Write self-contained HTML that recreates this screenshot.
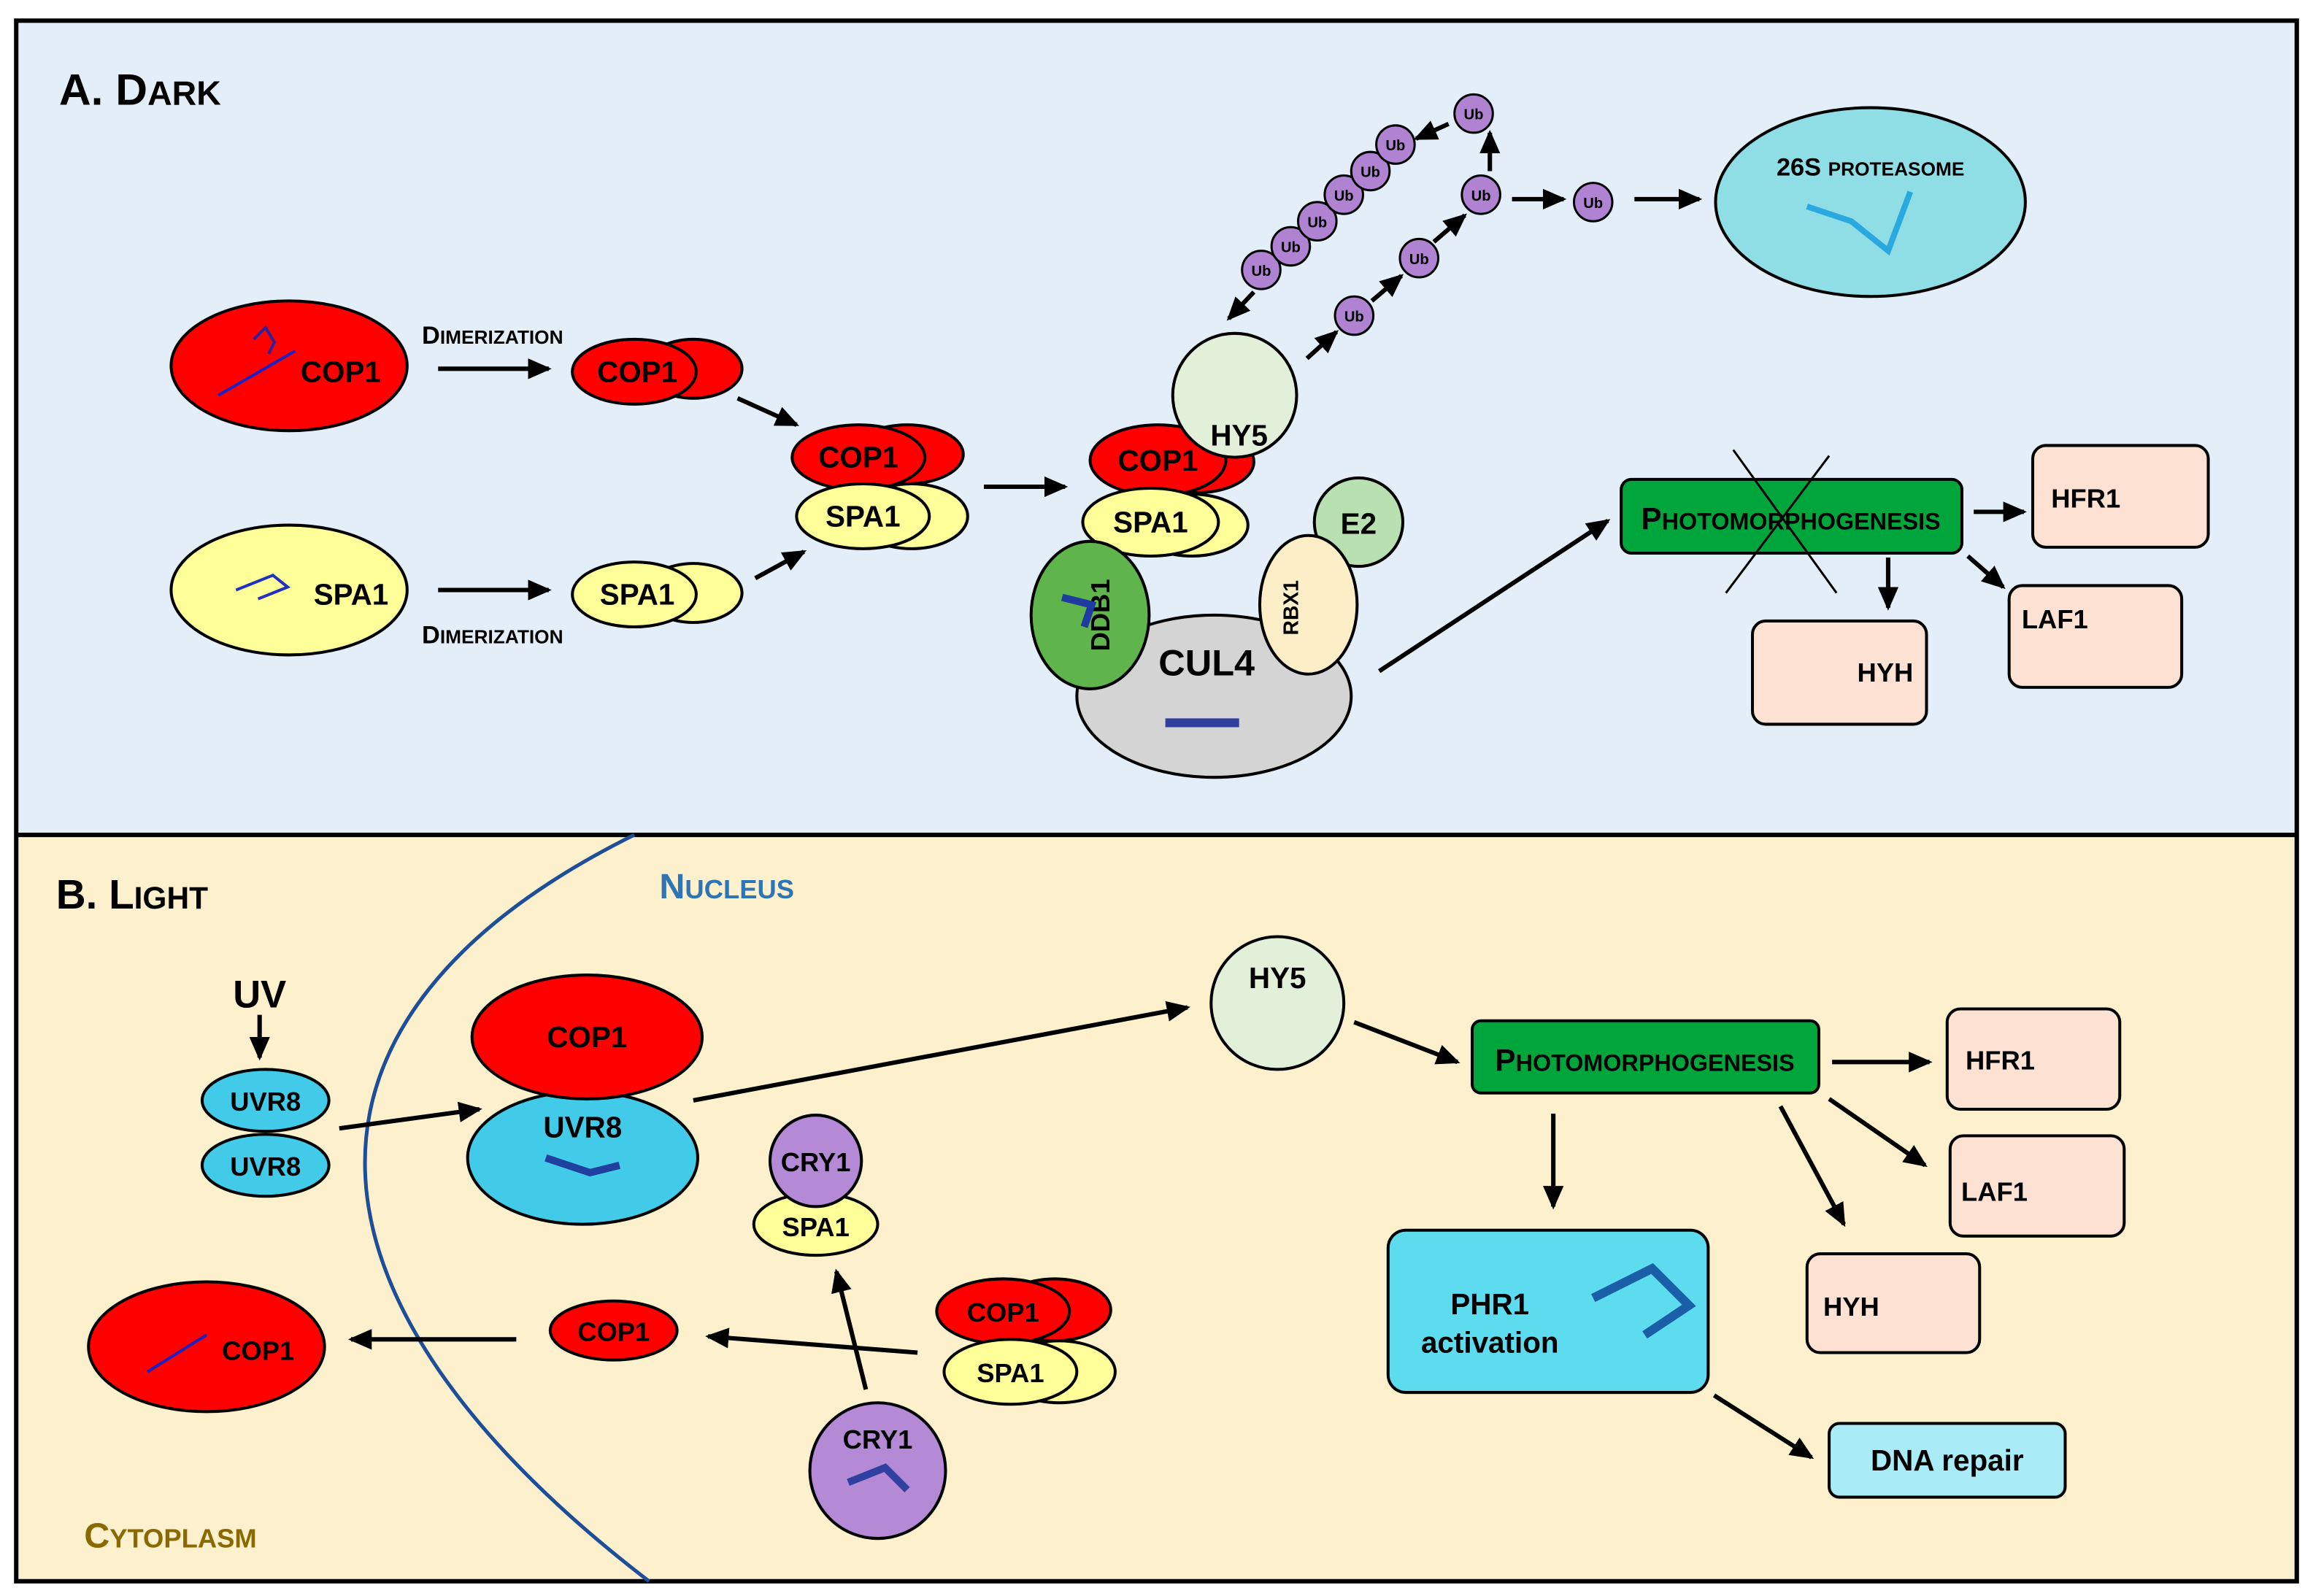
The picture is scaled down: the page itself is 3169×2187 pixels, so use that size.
<!DOCTYPE html>
<html><head><meta charset="utf-8"><style>
html,body{margin:0;padding:0;background:#fff;}
svg{display:block;}
text{font-family:"Liberation Sans Narrow","Liberation Sans",sans-serif;font-weight:bold;fill:#000;}
</style></head><body>
<svg width="3169" height="2187" viewBox="0 0 1568 1082" preserveAspectRatio="none" xmlns="http://www.w3.org/2000/svg">
<defs>
<marker id="a" markerUnits="userSpaceOnUse" markerWidth="16" markerHeight="16" refX="14" refY="8" orient="auto"><path d="M0,1 L16,8 L0,15 Z" fill="#000"/></marker>
<marker id="b" markerUnits="userSpaceOnUse" markerWidth="12" markerHeight="12" refX="11" refY="6" orient="auto"><path d="M0,1 L12,6 L0,11 Z" fill="#000"/></marker>
</defs>
<rect x="0" y="0" width="1568" height="1082" fill="#fff"/>
<rect x="11" y="14" width="1546" height="552" fill="#e4eef8"/>
<rect x="11" y="566" width="1546" height="506" fill="#fdf0cd"/>
<rect x="11" y="14" width="1546" height="1058" fill="none" stroke="#000" stroke-width="3"/>
<line x1="11" y1="566" x2="1557" y2="566" stroke="#000" stroke-width="3"/>

<g stroke="#000" stroke-width="2">
<!-- Panel A -->
<ellipse cx="196" cy="248" rx="80" ry="44" fill="#f00"/>
<ellipse cx="196" cy="400" rx="80" ry="44" fill="#ffff99"/>
<ellipse cx="470" cy="250" rx="33" ry="20" fill="#f00"/>
<ellipse cx="430" cy="252" rx="42" ry="22" fill="#f00"/>
<ellipse cx="470" cy="402" rx="33" ry="20" fill="#ffff99"/>
<ellipse cx="430" cy="403" rx="42" ry="22" fill="#ffff99"/>
<ellipse cx="615" cy="308" rx="38" ry="20" fill="#f00"/>
<ellipse cx="582" cy="310" rx="45" ry="22" fill="#f00"/>
<ellipse cx="618" cy="350" rx="38" ry="22" fill="#ffff99"/>
<ellipse cx="585" cy="350" rx="45" ry="22" fill="#ffff99"/>
<ellipse cx="823" cy="472" rx="93" ry="55" fill="#d4d4d4"/>
<ellipse cx="812" cy="313" rx="38" ry="21" fill="#f00"/>
<ellipse cx="785" cy="312" rx="46" ry="24" fill="#f00"/>
<ellipse cx="808" cy="356" rx="38" ry="21" fill="#ffff99"/>
<ellipse cx="780" cy="354" rx="46" ry="23" fill="#ffff99"/>
<circle cx="837" cy="268" r="42" fill="#e2f0da"/>
<ellipse cx="739" cy="417" rx="40" ry="50" fill="#5fb54c"/>
<circle cx="921" cy="354" r="30" fill="#b8e0b0"/>
<ellipse cx="887" cy="410" rx="33" ry="47" fill="#fcefc8"/>
<ellipse cx="1268" cy="137" rx="105" ry="64" fill="#8fdde5"/>
<rect x="1099" y="325" width="231" height="50" rx="7" fill="#00a63c"/>
<rect x="1378" y="302" width="119" height="69" rx="9" fill="#fde2d4"/>
<rect x="1188" y="421" width="118" height="70" rx="9" fill="#fde2d4"/>
<rect x="1362" y="397" width="117" height="69" rx="9" fill="#fde2d4"/>
<g fill="#b083d2" stroke-width="1.5">
<circle cx="855" cy="183" r="13"/><circle cx="875" cy="167" r="13"/><circle cx="893" cy="150" r="13"/>
<circle cx="911" cy="132" r="13"/><circle cx="929" cy="116" r="13"/><circle cx="946" cy="98" r="13"/>
<circle cx="999" cy="77" r="13"/><circle cx="918" cy="214" r="13"/><circle cx="962" cy="175" r="13"/>
<circle cx="1004" cy="132" r="13"/><circle cx="1080" cy="137" r="13"/>
</g>
<!-- Panel B -->
<ellipse cx="180" cy="790" rx="43" ry="21" fill="#42cbe9"/>
<ellipse cx="180" cy="746" rx="43" ry="21" fill="#42cbe9"/>
<ellipse cx="395" cy="785" rx="78" ry="45" fill="#42cbe9"/>
<ellipse cx="398" cy="703" rx="78" ry="42" fill="#f00"/>
<circle cx="866" cy="680" r="45" fill="#e2f0da"/>
<rect x="998" y="692" width="235" height="49" rx="6" fill="#00a63c"/>
<rect x="1320" y="684" width="117" height="68" rx="9" fill="#fde2d4"/>
<rect x="1322" y="770" width="118" height="68" rx="9" fill="#fde2d4"/>
<rect x="1225" y="850" width="117" height="67" rx="9" fill="#fde2d4"/>
<rect x="941" y="834" width="217" height="110" rx="12" fill="#5ddcef"/>
<rect x="1240" y="965" width="160" height="50" rx="7" fill="#a9ecf7"/>
<ellipse cx="553" cy="830" rx="42" ry="21" fill="#ffff99"/>
<circle cx="553" cy="787" r="31" fill="#b48ad6"/>
<circle cx="595" cy="997" r="46" fill="#b48ad6"/>
<ellipse cx="715" cy="888" rx="38" ry="21" fill="#f00"/>
<ellipse cx="680" cy="889" rx="45" ry="22" fill="#f00"/>
<ellipse cx="718" cy="930" rx="38" ry="21" fill="#ffff99"/>
<ellipse cx="685" cy="930" rx="45" ry="22" fill="#ffff99"/>
<ellipse cx="416" cy="902" rx="43" ry="20" fill="#f00"/>
<ellipse cx="140" cy="913" rx="80" ry="44" fill="#f00"/>
</g>
<path d="M430,566 C 180,690 190,880 440,1072" fill="none" stroke="#1f4e99" stroke-width="2.5"/>

<!-- cross -->
<g stroke="#000" stroke-width="1.5">
<line x1="1175" y1="305" x2="1245" y2="402"/><line x1="1240" y1="309" x2="1170" y2="402"/>
</g>

<!-- arrows -->
<g stroke="#000" stroke-width="3" fill="none" marker-end="url(#a)">
<line x1="297" y1="250" x2="372" y2="250"/>
<line x1="297" y1="400" x2="372" y2="400"/>
<line x1="500" y1="270" x2="540" y2="288"/>
<line x1="512" y1="392" x2="545" y2="374"/>
<line x1="667" y1="330" x2="722" y2="330"/>
<line x1="886" y1="243" x2="906" y2="225"/>
<line x1="930" y1="204" x2="950" y2="187"/>
<line x1="972" y1="164" x2="993" y2="146"/>
<line x1="1010" y1="116" x2="1010" y2="90"/>
<line x1="982" y1="84" x2="960" y2="94"/>
<line x1="850" y1="198" x2="833" y2="216"/>
<line x1="1025" y1="135" x2="1060" y2="135"/>
<line x1="1108" y1="135" x2="1152" y2="135"/>
<line x1="935" y1="455" x2="1090" y2="353"/>
<line x1="1338" y1="347" x2="1372" y2="347"/>
<line x1="1280" y1="378" x2="1280" y2="412"/>
<line x1="1334" y1="377" x2="1358" y2="398"/>
<line x1="176" y1="688" x2="176" y2="717"/>
<line x1="230" y1="765" x2="325" y2="752"/>
<line x1="470" y1="746" x2="805" y2="683"/>
<line x1="918" y1="693" x2="988" y2="720"/>
<line x1="1242" y1="720" x2="1308" y2="720"/>
<line x1="1240" y1="745" x2="1305" y2="790"/>
<line x1="1207" y1="750" x2="1250" y2="830"/>
<line x1="1053" y1="755" x2="1053" y2="818"/>
<line x1="1162" y1="946" x2="1228" y2="988"/>
<line x1="587" y1="942" x2="567" y2="862"/>
<line x1="622" y1="917" x2="480" y2="906"/>
<line x1="350" y1="908" x2="238" y2="908"/>
</g>

<!-- text -->
<text x="40" y="71" font-size="30">A. D<tspan font-size="23">ARK</tspan></text>
<text x="38" y="616" font-size="28">B. L<tspan font-size="21">IGHT</tspan></text>
<text x="447" y="609" font-size="24" style="fill:#2e75b6">N<tspan font-size="18">UCLEUS</tspan></text>
<text x="57" y="1049" font-size="24" style="fill:#8a6a00">C<tspan font-size="18">YTOPLASM</tspan></text>
<text x="286" y="233" font-size="17">D<tspan font-size="13">IMERIZATION</tspan></text>
<text x="286" y="436" font-size="17">D<tspan font-size="13">IMERIZATION</tspan></text>
<g font-size="20" text-anchor="middle">
<text x="231" y="259">COP1</text>
<text x="238" y="410">SPA1</text>
<text x="432" y="259">COP1</text>
<text x="432" y="410">SPA1</text>
<text x="582" y="317">COP1</text>
<text x="585" y="357">SPA1</text>
<text x="785" y="319">COP1</text>
<text x="780" y="361">SPA1</text>
<text x="840" y="302">HY5</text>
<text x="921" y="362">E2</text>
<text x="818" y="458" font-size="25">CUL4</text>
<text x="1414" y="344" font-size="18">HFR1</text>
<text x="1278" y="462" font-size="18">HYH</text>
<text x="1393" y="426" font-size="18">LAF1</text>
<text x="176" y="683" font-size="26">UV</text>
<text x="180" y="753" font-size="18">UVR8</text>
<text x="180" y="797" font-size="18">UVR8</text>
<text x="398" y="710">COP1</text>
<text x="395" y="771">UVR8</text>
<text x="866" y="670">HY5</text>
<text x="1356" y="725" font-size="18">HFR1</text>
<text x="1352" y="814" font-size="18">LAF1</text>
<text x="1255" y="892" font-size="18">HYH</text>
<text x="1010" y="891">PHR1</text>
<text x="1010" y="917">activation</text>
<text x="1320" y="997">DNA repair</text>
<text x="553" y="794" font-size="18">CRY1</text>
<text x="553" y="838" font-size="18">SPA1</text>
<text x="595" y="982" font-size="18">CRY1</text>
<text x="680" y="896" font-size="18">COP1</text>
<text x="685" y="937" font-size="18">SPA1</text>
<text x="416" y="909" font-size="18">COP1</text>
<text x="175" y="922" font-size="18">COP1</text>
<text x="1268" y="119" font-size="17">26S <tspan font-size="13">PROTEASOME</tspan></text>
<text x="1214" y="359" font-size="21">P<tspan font-size="16">HOTOMORPHOGENESIS</tspan></text>
<text x="1115" y="726" font-size="21">P<tspan font-size="16">HOTOMORPHOGENESIS</tspan></text>
</g>
<text x="0" y="0" font-size="18" text-anchor="middle" transform="translate(752,417) rotate(-90)">DDB1</text>
<text x="0" y="0" font-size="14" text-anchor="middle" transform="translate(880,412) rotate(-90)">RBX1</text>
<g font-size="10" text-anchor="middle">
<text x="855" y="187">Ub</text><text x="875" y="171">Ub</text><text x="893" y="154">Ub</text>
<text x="911" y="136">Ub</text><text x="929" y="120">Ub</text><text x="946" y="102">Ub</text>
<text x="999" y="81">Ub</text><text x="918" y="218">Ub</text><text x="962" y="179">Ub</text>
<text x="1004" y="136">Ub</text><text x="1080" y="141">Ub</text>
</g>
<!-- protein squiggles hint -->
<g fill="none" stroke-width="2">
<path d="M148,268 L200,238" stroke="#2020c0"/><path d="M172,230 l8,-8 l6,10 l-4,8" stroke="#30209a"/>
<path d="M160,400 l25,-10 l10,8 l-20,8" stroke="#2030c0"/>
<path d="M1225,140 l30,10 l25,20 l15,-40" stroke="#2aa8e0" stroke-width="4"/>
<path d="M790,490 l50,0" stroke="#3040a0" stroke-width="6"/>
<path d="M720,405 l20,5 l-5,15" stroke="#1f3aa0" stroke-width="5"/>
<path d="M370,785 l30,10 l20,-5" stroke="#2040a0" stroke-width="5"/>
<path d="M1080,880 l40,-20 l25,25 l-30,20" stroke="#1a5ea8" stroke-width="6"/>
<path d="M100,930 l40,-25" stroke="#2020c0"/>
<path d="M575,1005 l25,-10 l15,15" stroke="#3040a0" stroke-width="5"/>
</g>
</svg>
</body></html>
